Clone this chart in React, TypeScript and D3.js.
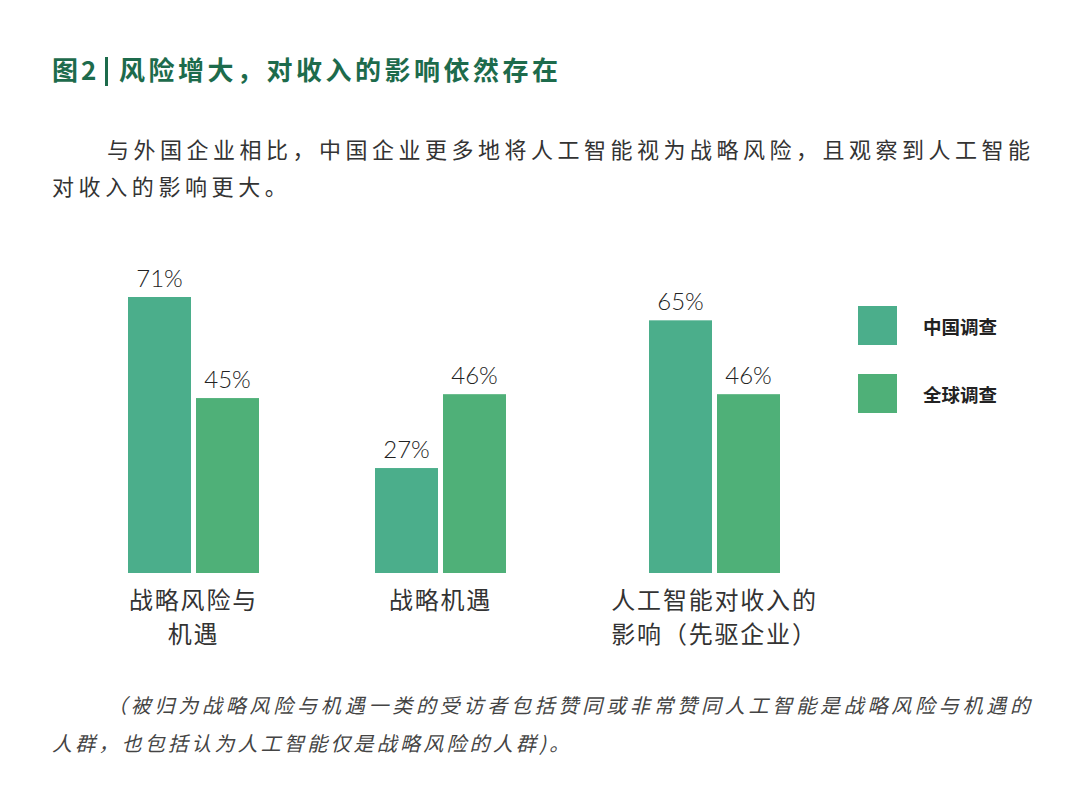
import React, { useRef, useEffect } from 'react';
import * as d3 from 'd3';

// data
const categories = ['战略风险与机遇', '战略机遇', '人工智能对收入的影响（先驱企业）'];
const categoryLines = [['战略风险与', '机遇'], ['战略机遇'], ['人工智能对收入的', '影响（先驱企业）']];
const seriesNames = ['中国调查', '全球调查'];
const chinaValues = [71, 27, 65];
const globalValues = [45, 46, 46];

const titlePrefix = '图2';
const titleText = '风险增大，对收入的影响依然存在';
const introLines = ['与外国企业相比，中国企业更多地将人工智能视为战略风险，且观察到人工智能', '对收入的影响更大。'];
const noteLines = ['（被归为战略风险与机遇一类的受访者包括赞同或非常赞同人工智能是战略风险与机遇的', '人群，也包括认为人工智能仅是战略风险的人群)。'];

const colors = ['#4bae8b', '#4fb078'];
const cjk = '"Noto Sans CJK SC", "Noto Sans", sans-serif';

const App = () => {
  const svgRef = useRef<SVGSVGElement>(null);

  useEffect(() => {
    const svg = d3.select(svgRef.current)
      .attr('width', 1080)
      .attr('height', 806)
      .style('background', '#ffffff');

    svg.selectAll('*').remove();

    // header text
    const head = svg.append('g')
      .attr('font-family', cjk)
      .attr('font-size', 26)
      .attr('font-weight', 700)
      .attr('fill', '#1d6b4c');
    head.append('text').attr('x', 52).attr('y', 80).attr('letter-spacing', 3).text(titlePrefix);
    head.append('rect').attr('x', 105).attr('y', 57).attr('width', 3).attr('height', 29);
    head.append('text')
      .attr('x', 119).attr('y', 80)
      .attr('textLength', 439).attr('lengthAdjust', 'spacing')
      .text(titleText);

    svg.append('text')
      .attr('x', 107).attr('y', 158)
      .attr('font-family', cjk).attr('font-size', 22).attr('fill', '#333')
      .attr('textLength', 923).attr('lengthAdjust', 'spacing')
      .text(introLines[0]);
    svg.append('text')
      .attr('x', 52).attr('y', 195)
      .attr('font-family', cjk).attr('font-size', 22).attr('fill', '#333')
      .attr('letter-spacing', 4.6)
      .text(introLines[1]);

    // scales
    const x = d3.scaleOrdinal<string, number>()
      .domain(categories)
      .range([193.5, 440.5, 714.5]);

    const inner = d3.scaleBand<string>()
      .domain(seriesNames)
      .range([-65.5, 65.5])
      .paddingInner(5 / 68);

    const y = d3.scaleLinear()
      .domain([0, 71])
      .range([573, 297]);

    const rows = categories.flatMap((c, i) => [
      { cat: c, series: seriesNames[0], value: chinaValues[i] },
      { cat: c, series: seriesNames[1], value: globalValues[i] },
    ]);

    const color = d3.scaleOrdinal<string, string>().domain(seriesNames).range(colors);

    const g = svg.append('g');

    g.selectAll('.bar')
      .data(rows)
      .enter()
      .append('rect')
      .attr('x', d => x(d.cat) + (inner(d.series) as number))
      .attr('y', d => y(d.value))
      .attr('width', inner.bandwidth())
      .attr('height', d => y(0) - y(d.value))
      .attr('fill', d => color(d.series));

    g.selectAll('.val')
      .data(rows)
      .enter()
      .append('text')
      .attr('x', d => x(d.cat) + (inner(d.series) as number) + inner.bandwidth() / 2)
      .attr('y', d => y(d.value) - 10)
      .attr('text-anchor', 'middle')
      .attr('font-family', 'Lato, sans-serif')
      .attr('font-size', 24)
      .attr('font-weight', 300)
      .attr('fill', '#222')
      .text(d => `${d.value}%`);

    // category labels
    categories.forEach((c, i) => {
      categoryLines[i].forEach((line, j) => {
        g.append('text')
          .attr('x', x(c))
          .attr('y', 609 + j * 34)
          .attr('text-anchor', 'middle')
          .attr('font-family', cjk)
          .attr('font-size', 24)
          .attr('letter-spacing', 1.8)
          .attr('fill', '#333')
          .text(line);
      });
    });

    // legend
    const legend = svg.append('g').attr('transform', 'translate(858, 306)');
    seriesNames.forEach((s, i) => {
      legend.append('rect')
        .attr('x', 0).attr('y', i * 68)
        .attr('width', 39).attr('height', 39)
        .attr('fill', color(s));
      legend.append('text')
        .attr('x', 65).attr('y', i * 68 + 20)
        .attr('dominant-baseline', 'central')
        .attr('font-family', cjk)
        .attr('font-size', 18.5)
        .attr('font-weight', 700)
        .attr('fill', '#222')
        .text(s);
    });

    // footnote
    svg.append('text')
      .attr('x', 107).attr('y', 713)
      .attr('font-family', cjk).attr('font-size', 20).attr('fill', '#444')
      .attr('font-style', 'italic')
      .attr('textLength', 923).attr('lengthAdjust', 'spacing')
      .text(noteLines[0]);
    svg.append('text')
      .attr('x', 52).attr('y', 751)
      .attr('font-family', cjk).attr('font-size', 20).attr('fill', '#444')
      .attr('font-style', 'italic')
      .attr('letter-spacing', 3.2)
      .text(noteLines[1]);
  }, []);

  return (
    <svg ref={svgRef} style={{ position: 'absolute', left: 0, top: 0, display: 'block' }}></svg>
  );
};

export default App;
